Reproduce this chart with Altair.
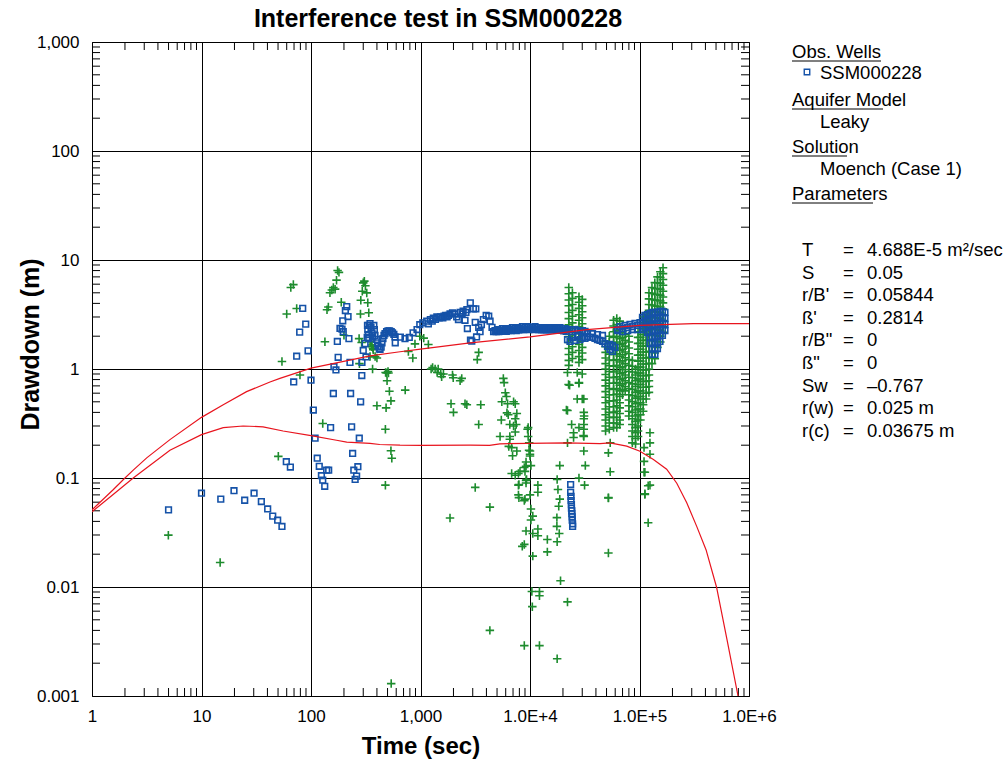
import altair as alt
import pandas as pd

RED = "#e8141e"
BLUE = "#1552a8"
GREEN = "#1e8c2e"
FONT = "Liberation Sans"

# ---------------- model curves ----------------
CURVE_UP_T = [1, 1.56, 2.0, 2.38, 3.16, 5.15, 10, 15.8, 25.8, 42.2, 52, 100, 204, 346,
              650, 1000, 2840, 1e4, 3.3e4, 1e5, 3.1e5, 1e6]
CURVE_UP_S = [0.051, 0.078, 0.10, 0.118, 0.153, 0.225, 0.36, 0.47, 0.62, 0.76, 0.82, 1.02,
              1.18, 1.32, 1.44, 1.52, 1.74, 1.97, 2.30, 2.51, 2.61, 2.61]
CURVE_LO_T = [1, 1.56, 2.38, 5.15, 10, 15.8, 24, 36.5, 55.6, 100, 171, 212, 346, 424, 650, 1000,
              2840, 4270, 5300, 21500, 43600, 53700, 76400, 1.01e5, 1.34e5, 1.77e5, 2.19e5,
              2.7e5, 3.33e5, 4.05e5, 5.05e5, 6.29e5, 7.94e5, 8.64e5]
CURVE_LO_S = [0.049, 0.0706, 0.10, 0.18, 0.25, 0.29, 0.30, 0.295, 0.27, 0.245, 0.222, 0.213, 0.208,
              0.203, 0.2, 0.199, 0.2, 0.199, 0.206, 0.21, 0.207, 0.21, 0.196, 0.176, 0.148, 0.1205,
              0.0895, 0.0593, 0.036, 0.022, 0.01, 0.0033, 0.001, 0.00051]

# ---------------- observed drawdown (blue squares) ----------------
BLUE_EARLY_T = [5.0, 10, 15, 19.8, 24.8, 30.2, 35.2, 40.2, 44.7, 49.6, 54.3, 59.5, 64.8, 69.5, 74,
                78.8, 84, 89.5, 94, 100, 105, 109, 114, 119, 124.5, 128, 133.5, 139, 145, 151,
                160, 162, 169, 174, 177, 184, 192, 197, 195, 206, 212, 218, 222, 227, 230, 235,
                240, 246, 253, 261, 268, 276, 284, 291, 292, 300, 312, 318, 326]
BLUE_EARLY_S = [0.051, 0.0726, 0.064, 0.0764, 0.0625, 0.0726, 0.0608, 0.052, 0.0447, 0.041,
                0.0359, 0.141, 0.126, 0.76, 1.31, 2.18, 3.6, 2.58, 1.47, 0.79, 0.42, 0.232, 0.152,
                0.128, 0.105, 0.0955, 0.084, 0.118, 0.118, 0.29, 0.596, 1.05, 0.98, 1.79, 1.28,
                2.36, 2.32, 2.2, 2.77, 3.44, 3.74, 3.03, 1.9, 1.15, 0.596, 0.295, 0.168, 0.118,
                0.097, 0.104, 0.127, 0.232, 0.5, 0.87, 1.15, 1.48, 1.71, 1.29, 1.95]
BLUE_CLUSTER_T = [328, 330, 334, 337, 340, 346, 353, 361, 366, 375, 379, 384, 396, 405, 409, 421,
                  427, 437, 445, 454, 464, 474, 490, 505, 522, 540, 555, 571, 585, 588]
BLUE_CLUSTER_S = [2.51, 2.30, 2.07, 1.90, 2.51, 2.61, 2.40, 2.15, 1.97, 2.51, 2.30, 2.03, 1.87,
                  1.74, 1.62, 1.53, 1.51, 1.59, 1.74, 1.90, 2.03, 2.11, 2.20, 2.24, 2.24, 2.20,
                  2.15, 2.08, 1.97, 1.74]
BLUE_RISE_T = [655, 722, 790, 855, 930, 985, 1050, 1140, 1230, 1310, 1410, 1520, 1640, 1750, 1860,
               1960, 2140, 2220, 2300, 2450, 2550, 2650, 2680, 2850, 2860, 2940, 3040, 3160, 3200,
               3250, 3400, 3500, 3600, 3750, 3980, 4200, 4320, 4500, 4650,
               1180, 1280, 1370, 1480, 1600, 1700, 1800, 2050, 2400, 2600]
BLUE_RISE_S = [1.96, 1.90, 1.95, 2.15, 2.30, 2.55, 2.65, 2.75, 2.84, 2.93, 3.0, 3.0, 3.05, 3.0,
               3.2, 3.28, 3.0, 2.84, 3.3, 3.4, 2.8, 3.5, 2.35, 4.05, 1.84, 1.8, 3.57, 2.68, 3.57,
               1.97, 2.41, 2.2, 2.56, 2.84, 3.1, 3.05, 2.75, 2.41, 2.2,
               2.6, 2.75, 2.85, 2.95, 2.95, 3.1, 3.1, 3.2, 3.2, 3.3]
BLUE_BAND_T = [4790, 5050, 5320, 5610, 5910, 6230, 6560, 6920, 7290, 7690, 8100, 8540, 9000, 9490,
               10000, 10540, 11110, 11710, 12340, 13010, 13710, 14450, 15230, 16050, 16920,
               17830, 18790, 19800, 20870, 22000, 23190, 24440, 25760, 27150, 28610, 30160,
               31790]
BLUE_BAND_S = [2.25, 2.30, 2.25, 2.35, 2.30, 2.35, 2.30, 2.40, 2.35, 2.40, 2.35, 2.45, 2.40, 2.45,
               2.40, 2.40, 2.45, 2.40, 2.40, 2.35, 2.40, 2.35, 2.40, 2.35, 2.40, 2.35, 2.40, 2.35,
               2.35, 2.30, 2.30, 2.30, 2.30, 2.25, 2.25, 2.25, 2.21]
BLUE_BAND2_T = [4920, 5180, 5460, 5760, 6070, 6390, 6740, 7100, 7490, 7890, 8320, 8770, 9240, 9740,
                10270, 10820, 11410, 12020, 12670, 13360, 14080, 14840, 15640, 16480, 17370,
                18300, 19290, 20330, 21430]
BLUE_BAND2_S = [2.2, 2.2, 2.22, 2.25, 2.22, 2.25, 2.25, 2.28, 2.25, 2.28, 2.3, 2.3, 2.32, 2.3,
                2.32, 2.3, 2.32, 2.3, 2.28, 2.3, 2.28, 2.28, 2.3, 2.28, 2.26, 2.28, 2.26, 2.24,
                2.22]
BLUE_STEP_T = [22000, 23190, 24440, 25760, 27150, 28610, 30160, 31790, 33500, 35310, 37220, 39230,
               41340, 43570, 45920, 48400, 33500, 37220, 41340, 45920, 51010, 53760, 56660,
               59720, 53760, 56660, 62940, 66340, 69920, 73690, 77670, 81860, 86270, 90930,
               95830, 101000, 63000, 70000, 78000, 86000, 96000]
BLUE_STEP_S = [1.86, 1.79, 1.95, 1.83, 1.99, 1.86, 1.95, 1.91, 1.99, 1.95, 1.95, 1.91, 1.86, 1.83,
               1.79, 1.71, 2.11, 2.11, 2.07, 2.03, 1.61, 1.51, 1.45, 1.58, 1.68, 1.64, 2.30, 2.45,
               2.35, 2.51, 2.40, 2.56, 2.45, 2.62, 2.51, 2.67, 2.25, 2.2, 2.25, 2.3, 2.3]
BLUE_END_T = [106450] * 3 + [112200] * 3 + [118250] * 4 + [124630] * 6 + [131350] * 8 + \
             [138440] * 8 + [145910] * 7 + [153780] * 6 + [162070] * 5 + [170810] * 4
BLUE_END_S = [2.97, 2.62, 2.30,
              3.10, 2.74, 2.40,
              3.16, 2.79, 2.45, 2.16,
              3.23, 2.85, 2.51, 2.21, 1.95, 1.71,
              3.30, 2.91, 2.56, 2.25, 1.99, 1.75, 1.54, 1.36,
              3.30, 2.91, 2.56, 2.25, 1.99, 1.75, 1.54, 1.36,
              3.30, 2.91, 2.56, 2.25, 1.99, 1.75, 1.54,
              3.37, 2.97, 2.62, 2.30, 2.03, 1.79,
              3.37, 2.97, 2.62, 2.30, 2.03,
              3.30, 2.91, 2.56, 2.25]
BLUE_STACK_T = [23500, 23500, 23700, 23700, 23900, 23900, 24100, 24100, 24300, 24300, 24500, 24500]
BLUE_STACK_S = [0.087, 0.074, 0.068, 0.062, 0.057, 0.053, 0.05, 0.047, 0.044, 0.041, 0.038, 0.036]

# ---------------- derivative (green crosses) ----------------
GREEN_EARLY_T = [4.98, 14.8, 50.3, 54.3, 60, 65.4, 69, 74, 79.3, 128, 134, 140, 144, 149, 155, 160,
                 166, 171, 175, 180, 189, 200, 275, 277, 283, 285, 290, 294, 300, 307, 314, 323,
                 330, 337, 346, 350, 358, 360, 368, 370, 346, 385, 400, 365, 480, 490, 505, 510,
                 495, 520, 537, 485, 400, 478, 537, 547, 478, 540]
GREEN_EARLY_S = [0.0299, 0.0168, 0.158, 1.17, 3.2, 5.6, 5.95, 3.59, 0.88, 0.316, 1.78, 3.5, 3.7,
                 5.0, 5.3, 5.6, 5.4, 6.53, 8.0, 7.7, 4.1, 2.04, 1.9, 1.12, 3.2, 4.27, 1.75, 5.17,
                 6.17, 6.4, 5.8, 4.99, 4.05, 3.28, 1.8, 1.78, 1.6, 1.66, 1.55, 1.5, 1.3, 1.3,
                 1.26, 1.0, 0.93, 0.92, 0.95, 0.92, 0.78, 0.625, 0.51, 0.44, 0.46, 0.28, 0.178,
                 0.152, 0.086, 0.0013]
GREEN_MID_T = [725, 775, 850, 890, 985, 1070, 1180, 1250, 1290, 1360, 1420, 1450, 1530, 1560, 1620,
               1960, 1990, 2300, 2380, 1900, 2000, 2550, 2650, 3550, 3400, 3400, 3300, 3160, 4300,
               1860, 4300]
GREEN_MID_S = [0.64, 1.45, 1.26, 1.7, 2.0, 1.92, 1.68, 1.0, 1.03, 1.0, 0.93, 1.0, 0.9, 0.85, 0.9,
               0.88, 0.83, 0.78, 0.82, 0.48, 0.4, 0.48, 0.47, 0.47, 0.31, 1.42, 1.22, 0.082, 0.054,
               0.043, 0.004]
GREEN_COL_T = [5710, 5800, 5950, 6100, 5530, 6240, 7080, 7330, 6160, 6330, 7580, 7330, 5470, 6540,
               7480, 7080, 7330, 6540, 6400, 6800, 7580, 6930, 9200, 8870, 8100, 6800, 7330, 7920,
               7920, 9000, 9200, 8500, 8870, 5330, 6540,
               9500, 9620, 9830, 9800, 10000, 10200, 9620, 10000, 10000, 9200, 9000, 7840, 9300,
               7840, 9200, 11800, 11800, 7840, 10000, 8870, 10200, 10600, 10200, 9200, 11800,
               11800, 10600, 14400, 14400, 10600, 19000, 10400, 12200, 12200, 10500, 22000, 8870,
               12200, 17700]
GREEN_COL_S = [0.82, 0.75, 0.605, 0.56, 0.5, 0.48, 0.5, 0.48, 0.396, 0.38, 0.39, 0.35, 0.34, 0.31,
               0.31, 0.3, 0.264, 0.24, 0.195, 0.19, 0.177, 0.16, 0.14, 0.125, 0.115, 0.11, 0.106,
               0.087, 0.066, 0.064, 0.095, 0.0236, 0.0246, 0.24, 0.227,
               0.28, 0.24, 0.21, 0.18, 0.159, 0.13, 0.29, 0.177, 0.165, 0.128, 0.115, 0.11, 0.097,
               0.086, 0.09, 0.086, 0.074, 0.07, 0.07, 0.062, 0.052, 0.0447, 0.0412, 0.0326,
               0.034, 0.0295, 0.031, 0.0273, 0.021, 0.0192, 0.0114, 0.0091, 0.0091, 0.0083,
               0.0066, 0.0073, 0.0029, 0.0029, 0.0022]
GREEN_LATE_T = [23000, 28000, 27000, 31000, 22000, 24000, 28000, 31000, 31000, 31000, 31000, 31000,
                31000, 32000, 31500, 28000, 22000, 18700, 17700, 18000, 18700, 18300, 17600,
                17600, 18500, 17700, 22000, 22500, 21500, 25000, 25000, 27000, 30000, 28000,
                30000, 31200, 30800,
                54000, 54000, 52000, 52000, 52000, 112000, 112000, 120000, 120000, 110000, 110000,
                110000, 112000, 124600, 124600, 124600, 124600, 52000]
GREEN_LATE_S = [0.71, 0.74, 0.53, 0.53, 0.416, 0.31, 0.29, 0.4, 0.35, 0.31, 0.28, 0.24, 0.177,
                0.13, 0.086, 0.1, 0.21, 0.13, 0.097, 0.0785, 0.064, 0.055, 0.0433, 0.036, 0.031,
                0.026, 0.93, 0.72, 0.42, 0.26, 0.235, 0.93, 0.9, 0.75, 0.53, 0.37, 0.245,
                0.21, 0.114, 0.066, 0.0205, 0.17, 0.113, 0.0706, 0.085, 0.0388, 0.19, 0.142,
                0.113, 0.0718, 0.086, 0.165, 0.21, 0.26, 0.0655]
# stacked columns of crosses (one time, many derivative readings)
STACK_T = [22600, 24400, 28000, 30000,
           49000, 53000, 58000, 62000, 66000, 70000, 74000, 80000, 86000, 92000, 97000, 102000,
           108000, 115000, 122000, 130000, 138000, 146000, 155000, 164000]
STACK_S = [
    [5.6, 4.9, 4.3, 3.8, 3.3, 2.9, 2.55, 2.25, 1.98, 1.75, 1.54, 1.36, 1.2, 1.08],
    [5.0, 4.45, 3.9, 3.45, 3.05, 2.65, 2.35, 2.05, 1.83, 1.6, 1.42, 1.25],
    [4.6, 4.1, 3.6, 3.15, 2.8, 2.45, 2.15, 1.9, 1.68, 1.48, 1.3, 1.15],
    [4.35, 3.8, 3.35, 2.95, 2.6, 2.3, 2.03, 1.8, 1.58, 1.4, 1.22],
    [1.8, 1.6, 1.42, 1.26, 1.12, 1.0, 0.89, 0.79, 0.7, 0.62, 0.55, 0.49, 0.43, 0.38, 0.34, 0.3, 0.27],
    [2.0, 1.76, 1.55, 1.37, 1.21, 1.07, 0.95, 0.84, 0.74, 0.66, 0.58, 0.51, 0.45, 0.4, 0.36, 0.32, 0.28],
    [2.8, 2.48, 2.2, 1.95, 1.72, 1.52, 1.35, 1.2, 1.06, 0.94, 0.83, 0.74, 0.65, 0.58, 0.51, 0.45, 0.4, 0.36, 0.32, 0.29],
    [2.9, 2.56, 2.26, 2.0, 1.77, 1.56, 1.38, 1.22, 1.08, 0.96, 0.85, 0.75, 0.66, 0.59, 0.52, 0.46, 0.41, 0.36, 0.32, 0.29],
    [2.75, 2.43, 2.15, 1.9, 1.68, 1.48, 1.31, 1.16, 1.03, 0.91, 0.8, 0.71, 0.63, 0.56, 0.49, 0.44, 0.39, 0.34, 0.31],
    [2.2, 1.95, 1.72, 1.52, 1.35, 1.19, 1.05, 0.93, 0.82, 0.73, 0.65, 0.58],
    [2.07, 1.83, 1.62, 1.43, 1.27, 1.12, 0.99, 0.88, 0.78, 0.69, 0.63],
    [2.0, 1.77, 1.56, 1.38, 1.22, 1.08, 0.95, 0.84, 0.75, 0.66, 0.58, 0.52, 0.46, 0.41, 0.37],
    [1.2, 1.06, 0.94, 0.83, 0.73, 0.65, 0.57, 0.5, 0.45, 0.4, 0.35, 0.31, 0.27, 0.24, 0.21],
    [1.0, 0.88, 0.78, 0.69, 0.61, 0.54, 0.48, 0.42, 0.37, 0.33, 0.29, 0.26, 0.23, 0.205],
    [2.2, 1.95, 1.72, 1.52, 1.34, 1.18, 1.04, 0.92, 0.81, 0.72, 0.63, 0.56, 0.49, 0.43, 0.38, 0.34, 0.3, 0.27, 0.24],
    [2.5, 2.2, 1.95, 1.72, 1.52, 1.34, 1.18, 1.04, 0.92, 0.81, 0.72, 0.63, 0.56, 0.49, 0.43, 0.38, 0.34],
    [3.0, 2.65, 2.34, 2.07, 1.83, 1.62, 1.43, 1.26, 1.11, 0.98, 0.87, 0.77, 0.68, 0.6, 0.53, 0.47, 0.41],
    [3.0, 2.65, 2.34, 2.07, 1.83, 1.62, 1.43, 1.26, 1.11, 0.98, 0.87, 0.77, 0.68, 0.6, 0.53],
    [5.0, 4.4, 3.9, 3.45, 3.05, 2.7, 2.38, 2.1, 1.86, 1.64, 1.45, 1.28, 1.13, 1.0, 0.88, 0.78, 0.69, 0.61],
    [5.6, 4.95, 4.37, 3.86, 3.41, 3.01, 2.66, 2.35, 2.08, 1.84, 1.62, 1.43, 1.26, 1.12],
    [6.2, 5.48, 4.84, 4.28, 3.78, 3.34, 2.95, 2.6, 2.3, 2.03, 1.8, 1.59, 1.4, 1.24],
    [7.0, 6.18, 5.46, 4.83, 4.26, 3.77, 3.33, 2.94, 2.6, 2.3, 2.03, 1.79, 1.58],
    [7.8, 6.9, 6.1, 5.38, 4.75, 4.2, 3.71, 3.28, 2.9, 2.56, 2.26, 2.0, 1.77],
    [8.5, 7.5, 6.63, 5.86, 5.17, 4.57, 4.04, 3.57, 3.15, 2.79, 2.46, 2.17],
]

# ---------------- axes & annotation text ----------------
X_TICKS = [1, 10, 100, 1000, 10000, 100000, 1000000]
X_LABELS = ["1", "10", "100", "1,000", "1.0E+4", "1.0E+5", "1.0E+6"]
Y_TICKS = [0.001, 0.01, 0.1, 1, 10, 100, 1000]
Y_LABELS = ["0.001", "0.01", "0.1", "1", "10", "100", "1,000"]
MINOR_X = [m * 10 ** k for k in range(6) for m in range(2, 10)]
MINOR_Y = [m * 10.0 ** k for k in range(-3, 3) for m in range(2, 10)]

TITLE = "Interference test in SSM000228"
X_TITLE = "Time (sec)"
Y_TITLE = "Drawdown (m)"
LEGEND_HEADS = ["Obs. Wells", "Aquifer Model", "Solution", "Parameters"]
LEGEND_SUBS = ["SSM000228", "Leaky", "Moench (Case 1)"]
PARAM_NAMES = ["T", "S", "r/B'", "ß'", 'r/B"', 'ß"', "Sw", "r(w)", "r(c)"]
PARAM_VALUES = ["4.688E-5 m²/sec", "0.05", "0.05844", "0.2814", "0", "0", "–0.767",
                "0.025 m", "0.03675 m"]

# ---------------- build ----------------
W, H = 657, 654
PL, PT = 92, 42


def lab_expr(ticks, labels):
    arr = "[" + ",".join("'" + l + "'" for l in labels) + "]"
    vals = "[" + ",".join(repr(v) for v in ticks) + "]"
    return arr + "[indexof(" + vals + ", datum.value)]"


xs = alt.Scale(type="log", domain=[1, 1e6], nice=False)
ys = alt.Scale(type="log", domain=[0.001, 1000], nice=False)
x_enc = alt.X("t:Q", scale=xs, axis=alt.Axis(
    values=X_TICKS, labelExpr=lab_expr(X_TICKS, X_LABELS), grid=True, gridColor="black",
    gridOpacity=1, gridWidth=1, ticks=False, tickSize=0, domain=False, labelFlush=False,
    labelOverlap=False, labelPadding=12, labelFont=FONT, labelFontSize=17, labelColor="black",
    title=X_TITLE, titleFont=FONT, titleFontSize=24, titleFontWeight="bold", titleColor="black",
    titlePadding=10))
y_enc = alt.Y("s:Q", scale=ys, axis=alt.Axis(
    values=Y_TICKS, labelExpr=lab_expr(Y_TICKS, Y_LABELS), grid=True, gridColor="black",
    gridOpacity=1, gridWidth=1, ticks=False, tickSize=0, domain=False, labelFlush=False,
    labelOverlap=False, labelPadding=13, labelFont=FONT, labelFontSize=17, labelColor="black",
    title=Y_TITLE, titleFont=FONT, titleFontSize=25, titleFontWeight="bold", titleColor="black",
    titleAngle=270, titleAlign="center", titleBaseline="middle", titleX=-62, titleY=302))

blue_df = pd.concat([
    pd.DataFrame({"t": BLUE_EARLY_T, "s": BLUE_EARLY_S}),
    pd.DataFrame({"t": BLUE_CLUSTER_T, "s": BLUE_CLUSTER_S}),
    pd.DataFrame({"t": BLUE_RISE_T, "s": BLUE_RISE_S}),
    pd.DataFrame({"t": BLUE_BAND_T, "s": BLUE_BAND_S}),
    pd.DataFrame({"t": BLUE_BAND2_T, "s": BLUE_BAND2_S}),
    pd.DataFrame({"t": BLUE_STEP_T, "s": BLUE_STEP_S}),
    pd.DataFrame({"t": BLUE_END_T, "s": BLUE_END_S}),
    pd.DataFrame({"t": BLUE_STACK_T, "s": BLUE_STACK_S}),
], ignore_index=True)

stack_rows = [(t, s) for t, col in zip(STACK_T, STACK_S) for s in col]
green_df = pd.concat([
    pd.DataFrame({"t": GREEN_EARLY_T, "s": GREEN_EARLY_S}),
    pd.DataFrame({"t": GREEN_MID_T, "s": GREEN_MID_S}),
    pd.DataFrame({"t": GREEN_COL_T, "s": GREEN_COL_S}),
    pd.DataFrame({"t": GREEN_LATE_T, "s": GREEN_LATE_S}),
    pd.DataFrame(stack_rows, columns=["t", "s"]),
], ignore_index=True)

layers = []
mx = pd.DataFrame({"t": MINOR_X})
my = pd.DataFrame({"s": MINOR_Y})
layers.append(alt.Chart(mx).mark_rule(color="black", strokeWidth=1).encode(
    x=x_enc, y=alt.value(H), y2=alt.value(H - 8)))
layers.append(alt.Chart(mx).mark_rule(color="black", strokeWidth=1).encode(
    x=x_enc, y=alt.value(0), y2=alt.value(8)))
layers.append(alt.Chart(my).mark_rule(color="black", strokeWidth=1).encode(
    y=y_enc, x=alt.value(0), x2=alt.value(8)))
layers.append(alt.Chart(my).mark_rule(color="black", strokeWidth=1).encode(
    y=y_enc, x=alt.value(W - 8), x2=alt.value(W)))

layers.append(alt.Chart(green_df).mark_point(
    shape="M-1,0L1,0M0,-1L0,1", filled=False, color=GREEN, size=72, strokeWidth=1.6,
    opacity=1, clip=True).encode(x=x_enc, y=y_enc))
layers.append(alt.Chart(blue_df).mark_point(
    shape="square", filled=False, color=BLUE, size=32, strokeWidth=1.6, opacity=1,
    clip=True).encode(x=x_enc, y=y_enc))

for ct, cs in [(CURVE_UP_T, CURVE_UP_S), (CURVE_LO_T, CURVE_LO_S)]:
    layers.append(alt.Chart(pd.DataFrame({"t": ct, "s": cs})).mark_line(
        color=RED, strokeWidth=1.2, clip=True, interpolate="linear").encode(
        x=x_enc, y=y_enc, order=alt.Order("t:Q")))


def text_layer(label, px, py, size=18.5, align="left", weight="normal", baseline="middle"):
    return alt.Chart(pd.DataFrame({"label": [label]})).mark_text(
        align=align, baseline=baseline, font=FONT, fontSize=size, fontWeight=weight,
        color="black").encode(text="label:N", x=alt.value(px - PL), y=alt.value(py - PT))


def hline(x0, x1, py):
    return alt.Chart(pd.DataFrame({"a": [0]})).mark_rule(color="black", strokeWidth=1).encode(
        x=alt.value(x0 - PL), x2=alt.value(x1 - PL), y=alt.value(py - PT))


# chart title (drawn as text so it sits exactly above the plot)
layers.append(text_layer(TITLE, 438, 27, size=25, align="center", weight="bold",
                         baseline="alphabetic"))

head_y = [52, 100, 147, 194]
under_end = [881, 883, 847, 873]
for lab, hy, ue in zip(LEGEND_HEADS, head_y, under_end):
    layers.append(text_layer(lab, 792, hy))
    layers.append(hline(792, ue, hy + 9))
for lab, sy in zip(LEGEND_SUBS, [73, 122, 169]):
    layers.append(text_layer(lab, 820, sy))
layers.append(alt.Chart(pd.DataFrame({"a": [0]})).mark_point(
    shape="square", filled=False, color=BLUE, size=30, strokeWidth=1.4, opacity=1).encode(
    x=alt.value(807 - PL), y=alt.value(72 - PT)))
for i, (nm, val) in enumerate(zip(PARAM_NAMES, PARAM_VALUES)):
    py = 250 + i * 22.6
    layers.append(text_layer(nm, 802, py))
    layers.append(text_layer("=", 843, py))
    layers.append(text_layer(val, 867, py))

chart = alt.layer(*layers).properties(
    width=W, height=H,
    padding={"left": PL, "top": PT, "right": 1008 - PL - W, "bottom": 760 - PT - H},
    autosize=alt.AutoSizeParams(type="none"),
).configure_view(stroke="black", strokeWidth=1)

chart.save("out.html", embed_options={"renderer": "svg", "actions": False})
